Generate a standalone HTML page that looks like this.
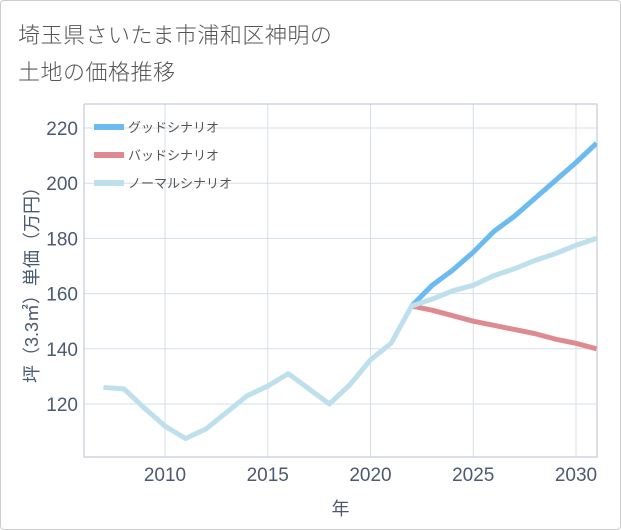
<!DOCTYPE html>
<html><head><meta charset="utf-8"><style>
html,body{margin:0;padding:0;background:#fff}
#wrap{position:relative;width:621px;height:530px;overflow:hidden}
#frame{position:absolute;left:0;top:0;width:619px;height:528px;border:1px solid #ccc;border-radius:4px}
.t{position:absolute;left:18px;font-family:"Liberation Sans","Noto Sans CJK JP",sans-serif;font-size:22px;color:#555;font-weight:300;letter-spacing:0.5px}
svg{position:absolute;left:0;top:0}
svg text{font-family:"Liberation Sans","Noto Sans CJK JP",sans-serif}
</style></head><body>
<div id="wrap">
<div id="frame"></div>
<div class="t" style="top:18px">埼玉県さいたま市浦和区神明の</div>
<div class="t" style="top:55px">土地の価格推移</div>
<svg id="chart" width="621" height="530"></svg>
</div>
<script>
const normalYears=[2007,2008,2009,2010,2011,2012,2013,2014,2015,2016,2017,2018,2019,2020,2021,2022,2023,2024,2025,2026,2027,2028,2029,2030,2031];
const normalValues=[126,125.5,118.5,112,107.5,111,117,123,126.5,131,125.5,120,127,136,142,155.5,158,161,163,166.5,169,172,174.5,177.5,180];
const futureYears=[2022,2023,2024,2025,2026,2027,2028,2029,2030,2031];
const goodValues=[155.5,163,168.5,175,182.5,188,194.5,201,207.5,214.5];
const badValues=[155.5,154,152,150,148.5,147,145.5,143.5,142,140];
const yTicks=[120,140,160,180,200,220];
const xTicks=[2010,2015,2020,2025,2030];
const legendLabels=["グッドシナリオ","バッドシナリオ","ノーマルシナリオ"];

const NS="http://www.w3.org/2000/svg";
const svg=document.getElementById('chart');
const L=84,R=597,T=104,B=457;
const x=v=>165+(v-2010)*(576-165)/20;
const y=v=>128+(220-v)*(404-128)/100;
function mk(tag,attrs,parent){const e=document.createElementNS(NS,tag);for(const k in attrs)e.setAttribute(k,attrs[k]);(parent||svg).appendChild(e);return e;}
const clip=mk('clipPath',{id:'pc'});mk('rect',{x:L,y:T,width:R-L,height:B-T},clip);

yTicks.forEach(v=>{
 const g=mk('line',{x1:L,x2:R,y1:y(v),y2:y(v),stroke:'#d5dfe8','stroke-width':1});
 
 
 const t=mk('text',{x:L-6,y:y(v)+7,'text-anchor':'end','font-size':19,fill:'#4a5a70'});
 t.textContent=v;
 
 
});
xTicks.forEach(v=>{
 const g=mk('line',{x1:x(v),x2:x(v),y1:T,y2:B,stroke:'#d5dfe8','stroke-width':1});
 
 
 const t=mk('text',{x:x(v),y:B+24,'text-anchor':'middle','font-size':19,fill:'#4a5a70'});
 t.textContent=v;
 
 
});
const ax=mk('path',{d:`M${L},${T}V${B}H${R}V${T}H${L}`,fill:'none',stroke:'#b8c2cc','stroke-width':1});



function line(xs,vs,color,name){
 const p=mk('polyline',{points:xs.map((a,i)=>x(a)+','+y(vs[i])).join(' '),fill:'none',stroke:color,'stroke-width':5,'stroke-linejoin':'round','clip-path':'url(#pc)'});
 
 
}
line(futureYears,badValues,'#df8a90','bad-scenario-line');
line(futureYears,goodValues,'#6bbaf0','good-scenario-line');
line(normalYears,normalValues,'#bde0ec','normal-scenario-line');

const lc=['#6bbaf0','#df8a90','#bde0ec'];
legendLabels.forEach((s,i)=>{
 const yy=127+i*28;
 const r=mk('rect',{x:94,y:yy-3,width:30,height:6,fill:lc[i]});
 
 
 const t=mk('text',{x:128,y:yy+5,'font-size':13,fill:'#555'});
 t.textContent=s;
 
 
});
const yt=mk('text',{x:0,y:0,'font-size':18,fill:'#4a5a70','text-anchor':'middle',transform:`translate(38,${(T+B)/2}) rotate(-90)`});
yt.textContent='坪（3.3㎡）単価（万円）';


const xt=mk('text',{x:(L+R)/2,y:515,'font-size':18,fill:'#4a5a70','text-anchor':'middle'});
xt.textContent='年';


</script>
</body></html>
